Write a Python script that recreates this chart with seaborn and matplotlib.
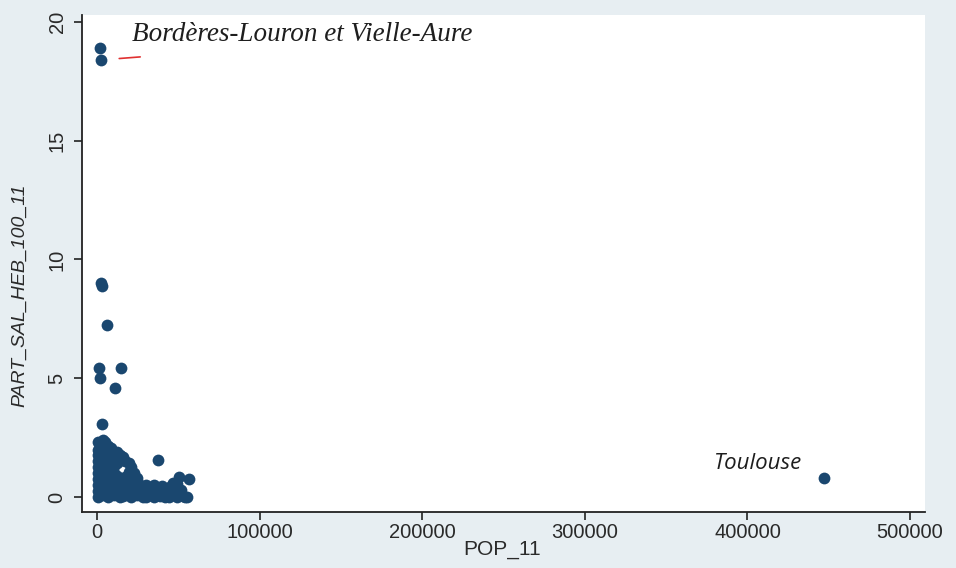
import pandas as pd
import matplotlib.pyplot as plt
import seaborn as sns

# communes: population 2011 vs share of salaried jobs in accommodation (per 100)
pop_outliers = [2000, 2600, 2500, 3100, 6000, 1500, 1600, 14500, 11000, 3000]
part_outliers = [18.9, 18.4, 9.0, 8.9, 7.25, 5.45, 5.0, 5.45, 4.6, 3.07]

pop_toulouse = [447000]
part_toulouse = [0.8]

pop_cluster = [
    500, 500, 500, 500, 500, 500, 500, 500, 500, 500,
    2000, 2000, 2000, 2000, 2000,
    3500, 3500, 3500, 3500, 3500, 3500, 3500, 3500, 3500, 3500,
    5200, 5200, 5200, 5200, 5200,
    7000, 7000, 7000, 7000, 7000, 7000, 7000, 7000, 7000,
    8800, 8800, 8800, 8800, 8800, 8800, 8800,
    10500, 10500, 10500, 10500, 10500, 10500, 10500,
    12300, 12300, 12300, 12300, 12300,
    14000, 14000, 14000, 14000, 14000,
    16000, 16000, 16000, 16000,
    17500, 17500, 17500, 17500,
    19500, 19500, 19500, 19500, 19500,
    21000, 21000, 21000, 21000, 21000,
    23000, 23000, 23000,
    24500, 24500, 24500,
    26500, 26500,
    28000, 28000, 30000, 30000, 30000, 31500, 31500,
    33000, 33000,
    35000, 35000, 35000, 37500, 38500, 38500,
    40000, 40000, 42000, 42000, 44000, 44000, 45500, 45500,
    47000, 47000, 47000,
    49000, 49000, 49000, 50500, 51500, 51500, 53000, 54000, 56500, 55500,
]
part_cluster = [
    0.0, 0.25, 0.5, 0.75, 1.0, 1.25, 1.5, 1.75, 2.0, 2.3,
    0.1, 0.6, 1.1, 1.6, 2.1,
    0.1, 0.4, 0.7, 0.95, 1.2, 1.45, 1.7, 1.95, 2.2, 2.4,
    0.2, 0.8, 1.3, 1.8, 2.3,
    0.0, 0.3, 0.6, 0.9, 1.15, 1.4, 1.65, 1.9, 2.15,
    0.15, 0.5, 0.8, 1.05, 1.5, 1.75, 2.05,
    0.1, 0.4, 0.7, 1.0, 1.3, 1.6, 1.85,
    0.2, 0.55, 0.9, 1.45, 1.9,
    0.0, 0.35, 0.7, 1.55, 1.75,
    0.05, 0.3, 0.65, 1.7,
    0.15, 0.5, 0.85, 1.5,
    0.1, 0.45, 0.8, 1.05, 1.45,
    0.0, 0.3, 0.65, 0.95, 1.25,
    0.25, 0.6, 1.0,
    0.1, 0.45, 0.8,
    0.15, 0.5,
    0.0, 0.3, 0.0, 0.25, 0.5, 0.1, 0.35,
    0.2, 0.4,
    0.0, 0.25, 0.5, 1.55, 0.05, 0.3,
    0.15, 0.45, 0.0, 0.35, 0.0, 0.3, 0.1, 0.45,
    0.2, 0.4, 0.6,
    0.0, 0.3, 0.55, 0.85, 0.15, 0.3, 0.05, 0.0, 0.75, 0.0,
]

x_ticks = [0, 100000, 200000, 300000, 400000, 500000]
y_ticks = [0, 5, 10, 15, 20]

df = pd.DataFrame({
    'POP_11': pop_cluster + pop_outliers + pop_toulouse,
    'PART_SAL_HEB_100_11': part_cluster + part_outliers + part_toulouse,
})

navy = '#1a476f'
bg = '#e7eef2'

sns.set_style('ticks')
plt.rcParams['font.family'] = ['Liberation Sans', 'DejaVu Sans']

fig = plt.figure(figsize=(9.56, 5.68), dpi=100, facecolor=bg)
ax = fig.add_axes([0.0858, 0.0986, 0.8818, 0.8754])
ax.set_facecolor('white')

sns.scatterplot(data=df, x='POP_11', y='PART_SAL_HEB_100_11', ax=ax,
                color=navy, s=72, linewidth=0, legend=False)

ax.set_xlim(-9200, 509200)
ax.set_ylim(-0.63, 20.3)
ax.set_xticks(x_ticks)
ax.set_yticks(y_ticks)
ax.set_xticklabels([str(v) for v in x_ticks], fontsize=14.5, color='#2a2a2a')
ax.set_yticklabels([str(v) for v in y_ticks], fontsize=14.5, color='#2a2a2a',
                   rotation=90, va='center')
ax.tick_params(axis='both', direction='out', length=6, width=1.2, color='#222222')
ax.tick_params(axis='x', pad=2)
ax.tick_params(axis='y', pad=5)
for side in ['top', 'right']:
    ax.spines[side].set_visible(False)
for side in ['left', 'bottom']:
    ax.spines[side].set_linewidth(1.3)
    ax.spines[side].set_color('#222222')

ax.set_xlabel('')
ax.set_ylabel('')
fig.text(0.525, 0.032, 'POP_11', fontsize=15, color='#2a2a2a',
         ha='center', va='center')
fig.text(0.021, 0.48, 'PART_SAL_HEB_100_11', fontsize=14, color='#2a2a2a',
         style='italic', rotation=90, ha='center', va='center')

# marker labels
ax.annotate('Bordères-Louron et Vielle-Aure',
            xy=(pop_outliers[0], part_outliers[0]),
            xytext=(32, 14), textcoords='offset pixels',
            ha='left', va='center', fontsize=19.5, style='italic',
            family=['Liberation Serif', 'DejaVu Serif'], color='#1e1e1e')
ax.annotate('', xy=(pop_outliers[1], part_outliers[1]),
            xytext=(39, 3), textcoords='offset pixels',
            arrowprops=dict(arrowstyle='-', color='#e03030', lw=1.2,
                            shrinkA=0, shrinkB=13))
ax.annotate('Toulouse', xy=(pop_toulouse[0], part_toulouse[0]),
            xytext=(-22, 15), textcoords='offset pixels',
            ha='right', va='center', fontsize=16, style='italic',
            family=['Open Sans', 'DejaVu Sans'], color='#1e1e1e')

fig.savefig('out.png', dpi=100, facecolor=bg)
